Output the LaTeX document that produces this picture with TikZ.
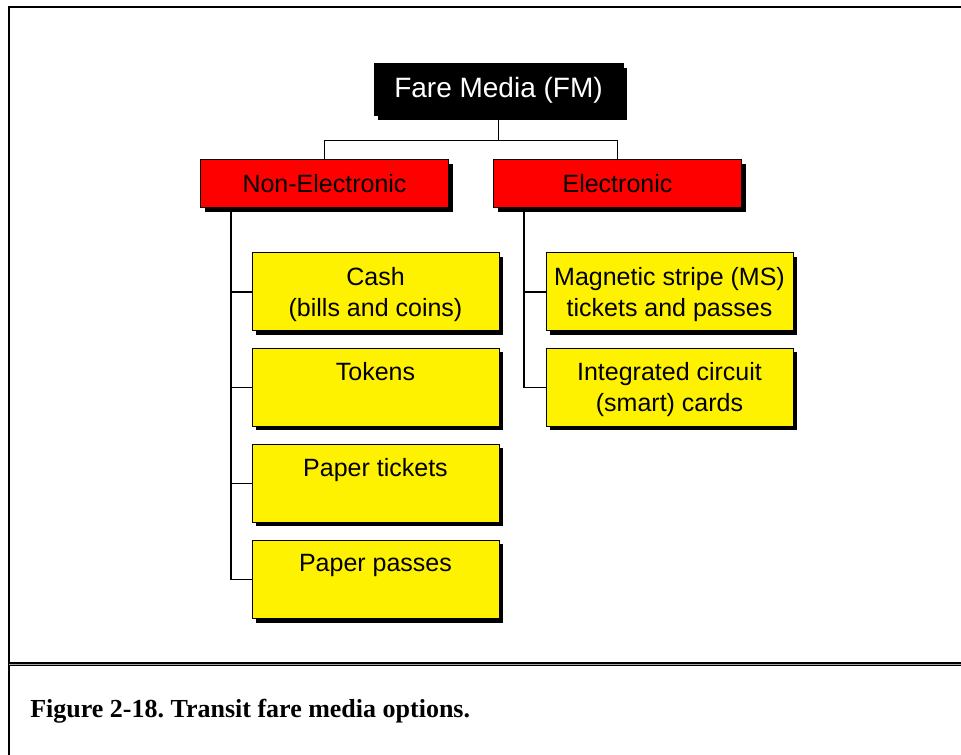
\documentclass[tikz,border=0pt]{standalone}
\usepackage{fontspec}
\setmainfont{Liberation Sans}
\newfontfamily\capfont{Liberation Serif}
\usetikzlibrary{calc,shadows}
\frenchspacing

% text of a yellow box, set from the top edge
\newcommand\ytext[1]{\parbox[c][58.5pt][t]{185.25pt}{\centering\vskip 10.5pt #1}}

\begin{document}
\begin{tikzpicture}[
  x=0.75pt, y=-0.75pt,
  boxshadow/.style={drop shadow={shadow xshift=3pt, shadow yshift=-3pt, opacity=1, fill=black}},
  headbox/.style={boxshadow, rectangle, draw=black, line width=0.75pt, fill=black, text=white,
    minimum width=186.75pt, minimum height=39pt, inner sep=0pt,
    font=\fontsize{21pt}{25pt}\selectfont},
  groupbox/.style={boxshadow, rectangle, draw=black, line width=0.75pt, fill=red, text=black,
    minimum width=186pt, minimum height=36pt, inner sep=0pt,
    font=\fontsize{18.75pt}{23.25pt}\selectfont},
  itembox/.style={boxshadow, rectangle, draw=black, line width=0.75pt, fill=yellow, text=black,
    minimum width=185.25pt, minimum height=58.5pt, inner sep=0pt,
    font=\fontsize{18.75pt}{23.25pt}\selectfont},
  link/.style={draw=black, line width=1.2pt},
  frameline/.style={draw=black, line width=1pt},
]
\useasboundingbox (0,0) rectangle (961,755);
\fill[white] (0,0) rectangle (961,755);

% page frame
\draw[gray!70, line width=1.8pt] (9,755) -- (9,7) -- (961,7);
\draw[frameline] (9,755) -- (9,7) -- (961,7);
\draw[line width=0.95pt, double=gray!70, double distance=1pt] (9,664.3) -- (961,664.3);

% hierarchy
\node[headbox]  (fm)   at (498.5,90)    {Fare Media (FM)};
\node[groupbox] (ne)   at (324.5,184)   {Non-Electronic};
\node[groupbox] (el)   at (617.5,184)   {Electronic};

\node[itembox] (cash) at (375.5,292)   {\ytext{Cash\\(bills and coins)}};
\node[itembox] (tok)  at (375.5,387.5) {\ytext{Tokens}};
\node[itembox] (pt)   at (375.5,483.5) {\ytext{Paper tickets}};
\node[itembox] (pp)   at (375.5,579.5) {\ytext{Paper passes}};
\node[itembox] (ms)   at (669.5,292)   {\ytext{Magnetic stripe (MS)\\tickets and passes}};
\node[itembox] (ic)   at (669.5,387.5) {\ytext{Integrated circuit\\(smart) cards}};

% connectors
\coordinate (split) at ($(fm.south)+(0,24)$);
\draw[link] (fm.south) -- (split);
\draw[link] (split) -| (ne.north);
\draw[link] (split) -| (el.north);

\coordinate (nespine) at ($(ne.south west)+(31,0)$);
\coordinate (elspine) at ($(el.south west)+(31,0)$);
\foreach \b in {cash,tok,pt,pp}
  \draw[link] (nespine) |- (\b.west);
\foreach \b in {ms,ic}
  \draw[link] (elspine) |- (\b.west);

% caption
\node[anchor=base west, inner sep=0pt, font=\capfont\bfseries\fontsize{19.5pt}{23pt}\selectfont]
  (caption) at (30,717) {Figure 2-18. Transit fare media options.};
\end{tikzpicture}
\end{document}
